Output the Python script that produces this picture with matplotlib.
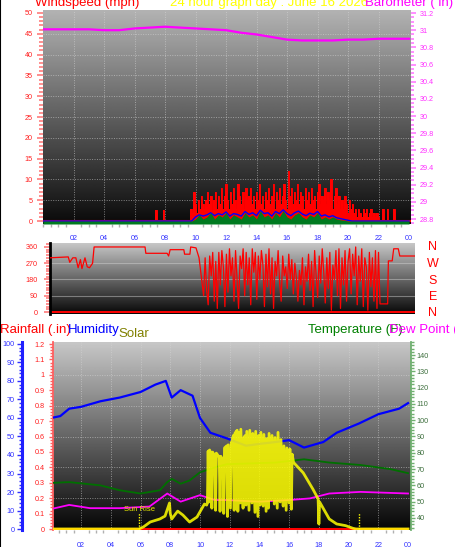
import numpy as np
import matplotlib.pyplot as plt
from matplotlib.lines import Line2D
from matplotlib.ticker import MultipleLocator, FixedLocator, FuncFormatter

plt.rcParams['font.family'] = ['Liberation Sans', 'DejaVu Sans']

# ---------------- data ----------------
hour_ticks = [2, 4, 6, 8, 10, 12, 14, 16, 18, 20, 22, 24]
hour_labels = ['02', '04', '06', '08', '10', '12', '14', '16', '18', '20', '22', '00']

# barometer (in), hourly
baro_hours = list(range(25))
baro_in = [31.01, 31.01, 31.01, 31.01, 31.00, 31.00, 31.02, 31.03, 31.04, 31.03,
           31.02, 31.01, 31.00, 30.97, 30.95, 30.92, 30.89, 30.88, 30.88, 30.88,
           30.89, 30.89, 30.90, 30.90, 30.90]

# gusts (mph): two early blips then 0.1 h samples 9.6 .. 23.4
early_gust_hours = [7.3, 7.4, 7.5, 7.8, 7.9, 8.0]
early_gust_mph = [0, 2.6, 0, 0, 2.6, 0]
gust_mph = [0, 3, 2, 7, 4, 2, 5, 3, 6, 4,
            3, 5, 7, 4, 6, 2, 5, 7, 3, 6,
            4, 8, 3, 6, 9, 5, 3, 7, 4, 8,
            5, 3, 9, 6, 4, 7, 3, 8, 5, 6,
            8, 4, 6, 3, 7, 5, 9, 4, 6, 3,
            7, 5, 8, 4, 6, 9, 3, 7, 5, 8,
            4, 6, 9, 5, 3, 12, 6, 8, 4, 7,
            5, 9, 4, 7, 6, 3, 8, 5, 7, 4,
            8, 5, 6, 3, 7, 9, 4, 6, 5, 8,
            4, 7, 5, 10, 3, 6, 8, 4, 6, 3,
            5, 3, 6, 4, 2, 5, 3, 4, 2, 3,
            1, 3, 2, 1, 3, 2, 3, 1, 2, 3,
            1, 2, 1, 2, 1, 0, 0, 3, 0, 0,
            3, 0, 0, 0, 3, 0, 0, 0, 0]

# wind speed (blue) and average (green), 0.25 h samples 9.75 .. 20.5
wind_mph = [0, 1, 1.5, 1.2, 1.5, 2, 1.3, 1.8, 1.5, 2.2,
            1.2, 1.8, 1.6, 1.2, 2.3, 1.6, 2, 1.3, 2.6, 1.8,
            2, 1.2, 2.3, 1.8, 2.7, 1.8, 1.3, 2, 2.4, 1.7,
            1.3, 1.9, 1.6, 2.3, 1.2, 1.5, 1, 1.3, 0.8, 0.6,
            0.4, 0.2, 0, 0]
avg_mph = [0, 0.5, 1.5, 0.5, 1, 2, 0.5, 1.5, 1, 2,
           0.5, 1.5, 1, 0.5, 2, 1, 1.5, 0.5, 2.5, 1,
           1.5, 0.5, 2, 1, 2.5, 1, 0.5, 1.5, 2, 1,
           0.5, 1.5, 1, 2, 0.5, 1, 0.5, 1, 0.5, 0.3,
           0.2, 0, 0, 0]

# wind direction (deg)
dir_hours_am = [0, 1.2, 1.3, 1.5, 1.7, 1.85, 2.0, 2.1, 2.3, 2.45, 2.6, 2.8, 2.9,
                6.25, 6.3, 7.7, 7.8, 7.9, 8.8, 8.85, 9.2, 9.25, 9.6, 9.8]
dir_deg_am = [300, 305, 275, 300, 300, 245, 290, 240, 300, 250, 245, 270, 360,
              360, 325, 325, 310, 345, 345, 320, 320, 360, 355, 300]
# 0.1 h samples 10.0 .. 21.6
dir_deg_day = [160, 90, 300, 120, 40, 310, 200, 330, 60, 280,
               20, 330, 150, 340, 250, 30, 320, 110, 350, 200,
               300, 60, 340, 180, 20, 310, 240, 350, 90, 330,
               150, 300, 40, 350, 220, 330, 70, 310, 180, 340,
               260, 30, 320, 140, 350, 100, 300, 20, 280, 200,
               340, 160, 60, 310, 200, 250, 130, 320, 180, 290,
               100, 270, 190, 60, 230, 150, 300, 40, 250, 170,
               320, 120, 280, 30, 340, 200, 80, 310, 160, 350,
               220, 50, 300, 130, 330, 10, 260, 180, 340, 90,
               350, 20, 300, 150, 340, 60, 280, 350, 100, 320,
               200, 360, 40, 310, 170, 350, 30, 300, 250, 10,
               330, 140, 300, 60, 340, 20, 330]
dir_hours_pm = [21.7, 22.2, 22.25, 22.5, 22.6, 22.9, 23.0, 24]
dir_deg_pm = [45, 45, 283, 283, 350, 350, 310, 310]

# humidity (%)
hum_hours = [0, 0.6, 1.2, 2, 3.3, 4.6, 6, 7, 7.7, 8.1, 8.7, 9.5, 10, 10.7, 11.8,
             13.1, 14.0, 15.1, 16.0, 17.0, 18.3, 19.2, 20.7, 22.0, 23.4, 24]
hum_pct = [60, 61, 65, 66, 69, 71, 74, 78, 80, 71, 75, 72, 60, 52, 49,
           45, 46, 47, 48, 44, 47, 52, 57, 62, 65, 68]

# temperature and dew point (F)
temp_hours = [0, 1.2, 3.3, 4.6, 6, 7.3, 7.8, 8.1, 8.7, 9.3, 10, 11, 11.8,
              15.1, 17.0, 18.7, 20.8, 22.8, 24]
temp_f = [61.5, 62, 60, 57, 55, 57, 62, 64, 61, 63, 68, 71, 73,
          74, 76, 74, 72.5, 70, 67.5]
dew_hours = [0, 1.2, 2.6, 4.6, 6.6, 7.8, 8.7, 10, 11, 11.8, 14.0, 16.0, 17.4,
             18.7, 20.8, 24]
dew_f = [45.5, 48, 46, 46, 47, 55, 50, 54, 51, 51, 50, 51, 52, 55, 56, 55]

# rainfall (in)
rain_hours = [0, 24]
rain_in = [0, 0]

# solar (W/m2)
solar_hours = [0, 5.9, 6.2, 6.65, 7.3, 7.65, 7.95, 8.0, 8.1, 8.5, 8.85, 9.3, 9.8,
               10.3, 10.45,
               10.50, 10.55, 10.60, 10.65, 10.75, 10.80, 10.85, 11.00, 11.05, 11.10,
               11.30, 11.35, 11.40, 11.55, 11.60, 11.65, 11.80, 11.85, 11.90, 12.05,
               12.10, 12.25, 12.30, 12.35, 12.50, 12.55, 12.60, 12.70, 12.75, 12.90,
               12.95, 13.05, 13.10, 13.15, 13.30, 13.35, 13.50, 13.55, 13.70, 13.75,
               13.90, 13.95, 14.05, 14.10, 14.25, 14.30, 14.45, 14.50, 14.60, 14.65,
               14.80, 14.85, 15.00, 15.05, 15.20, 15.25, 15.40, 15.45, 15.60, 15.65,
               15.80, 15.85, 16.00, 16.05, 16.15, 16.20, 16.30,
               16.95, 17.6, 17.95, 18.0, 18.05, 18.7, 19.2, 19.8, 20.3, 20.5, 24]
solar_wm2 = [0, 0, 20, 67, 96, 124, 250, 150, 96, 172, 134, 67, 115,
             240, 230,
             250, 750, 260, 760, 720, 200, 740, 700, 180, 730,
             690, 170, 700, 650, 150, 780, 800, 120, 810, 200,
             820, 900, 180, 920, 950, 170, 930, 250, 960, 200,
             880, 900, 230, 940, 180, 950, 250, 920, 160, 940,
             120, 900, 230, 930, 220, 910, 170, 870, 200, 920,
             280, 900, 240, 880, 200, 930, 260, 860, 220, 800,
             180, 780, 250, 770, 190, 720, 640,
             540, 383, 290, 48, 260, 96, 48, 32, 6, 0, 0]
sunrise, sunset = 5.9, 20.7

gust_hours = early_gust_hours + list(np.linspace(9.6, 23.4, len(gust_mph)))
gust_all = early_gust_mph + gust_mph
avg_hours = [0, 9.5] + list(np.linspace(9.75, 20.5, len(avg_mph))) + [24]
avg_all = [0, 0] + avg_mph + [0]
wind_all = [0, 0] + wind_mph + [0]
dir_hours = dir_hours_am + list(np.linspace(10.0, 21.6, len(dir_deg_day))) + dir_hours_pm
dir_deg = dir_deg_am + dir_deg_day + dir_deg_pm

# ---------------- helpers ----------------
W, H = 456, 547
fig = plt.figure(figsize=(W / 100, H / 100), dpi=100)
fig.patch.set_facecolor('white')


def box(x0, y0, x1, y1):
    return [x0 / W, 1 - y1 / H, (x1 - x0) / W, (y1 - y0) / H]


def shade(ax, top, bottom):
    x0, x1 = ax.get_xlim()
    y0, y1 = ax.get_ylim()
    g = np.linspace(top, bottom, 256).reshape(-1, 1)
    ax.imshow(g, cmap='gray', vmin=0, vmax=1, aspect='auto',
              extent=[x0, x1, y0, y1], zorder=0)
    ax.set_xlim(x0, x1)
    ax.set_ylim(y0, y1)


def grid(ax, xs, ys):
    for x in xs:
        ax.axvline(x, color='#d8d8d8', lw=0.7, ls=(0, (1, 1.5)), alpha=0.55, zorder=0.5)
    for y in ys:
        ax.axhline(y, color='#d8d8d8', lw=0.7, ls=(0, (1, 1.5)), alpha=0.55, zorder=0.5)


def hide_spines(ax):
    for s in ax.spines.values():
        s.set_visible(False)


fmt_g = FuncFormatter(lambda v, p: '%g' % round(v, 2))
TS = 5.2

# ---------------- top panel: wind speed + barometer ----------------
ax1 = fig.add_axes(box(43, 10, 411, 224))
ax1.set_xlim(0, 24.13)
ax1.set_ylim(-0.7, 50.7)
shade(ax1, 0.70, 0.04)
grid(ax1, hour_ticks[:-1], range(5, 50, 5))
ax1.fill_between(gust_hours, 0, gust_all, step='mid', color='#ff0000', lw=0, zorder=2)
ax1.step(gust_hours, gust_all, where='mid', color='#ff0000', lw=0.7, zorder=2)
ax1.axhline(0, color='#ff0000', lw=1.5, zorder=2)
ax1.plot(avg_hours, wind_all, color='#0000ff', lw=1, zorder=3)
ax1.fill_between(avg_hours, -0.7, avg_all, color='#007a20', lw=0, zorder=4)
hide_spines(ax1)
ax1.yaxis.set_major_locator(MultipleLocator(5))
ax1.yaxis.set_minor_locator(MultipleLocator(1))
ax1.tick_params(axis='y', which='both', colors='#ff7070', labelcolor='#ff2020',
                labelsize=TS, width=1.1, pad=3)
ax1.tick_params(axis='y', which='major', length=4.5)
ax1.tick_params(axis='y', which='minor', length=3)
ax1.set_xticks(hour_ticks)
ax1.set_xticklabels(hour_labels)
ax1.xaxis.set_minor_locator(MultipleLocator(0.5))
ax1.tick_params(axis='x', which='major', length=0, pad=8, labelsize=TS, labelcolor='#3030ff')
ax1.tick_params(axis='x', which='minor', length=2, width=1, color='#b0b0b0')

ax1b = ax1.twinx()
ax1b.set_ylim(28.742, 31.235)
ax1b.plot(baro_hours, baro_in, color='#ff00ff', lw=1.6)
hide_spines(ax1b)
ax1b.yaxis.set_major_locator(FixedLocator(np.round(np.arange(28.8, 31.21, 0.2), 1)))
ax1b.yaxis.set_minor_locator(MultipleLocator(0.05))
ax1b.yaxis.set_major_formatter(fmt_g)
ax1b.tick_params(axis='y', which='both', colors='#ff70ff', labelcolor='#ff30ff',
                 labelsize=TS, width=1.1, pad=2.5)
ax1b.tick_params(axis='y', which='major', length=3.5)
ax1b.tick_params(axis='y', which='minor', length=2.5)

# ---------------- middle panel: wind direction ----------------
ax2 = fig.add_axes(box(50, 243, 415, 314))
ax2.set_xlim(0, 24)
ax2.set_ylim(-11, 382)
shade(ax2, 0.78, 0.03)
for y in [90, 180, 270]:
    ax2.axhline(y, color='#d8d8d8', lw=0.8, alpha=0.45, zorder=0.5)
ax2.axhline(0, color='#ff0000', lw=1.4, zorder=2)
ax2.plot(dir_hours, dir_deg, color='#ff0000', lw=0.9, zorder=3)
hide_spines(ax2)
ax2.spines['left'].set_visible(True)
ax2.spines['left'].set_color('black')
ax2.spines['left'].set_linewidth(2)
ax2.set_xticks([])
ax2.set_yticks([0, 90, 180, 270, 360])
ax2.yaxis.set_minor_locator(MultipleLocator(15))
ax2.tick_params(axis='y', which='both', colors='#ff7070', labelcolor='#ff2020',
                labelsize=TS, width=1.1, pad=5)
ax2.tick_params(axis='y', which='major', length=4)
ax2.tick_params(axis='y', which='minor', length=3)
for letter, yy in zip(['N', 'W', 'S', 'E', 'N'], [247, 264, 281, 297, 313]):
    fig.text(433 / W, 1 - yy / H, letter, color='#ff0000', fontsize=9,
             ha='center', va='center')

# ---------------- bottom panel ----------------
ax3 = fig.add_axes(box(53, 342, 411, 530))
ax3.set_xlim(0.11, 24.2)
ax3.set_ylim(-0.006, 1.213)
shade(ax3, 0.78, 0.02)
grid(ax3, hour_ticks[:-1], np.round(np.arange(0.2, 1.1, 0.2), 1))
ax3.plot(rain_hours, rain_in, color='#ff0000', lw=2.2, zorder=2, solid_capstyle='butt')
hide_spines(ax3)
ax3.spines['left'].set_visible(True)
ax3.spines['left'].set_color('#ff6060')
ax3.spines['left'].set_linestyle((0, (1, 1)))
ax3.spines['left'].set_linewidth(1.3)
ax3.yaxis.set_major_locator(FixedLocator(np.round(np.arange(0, 1.21, 0.1), 1)))
ax3.yaxis.set_major_formatter(fmt_g)
ax3.yaxis.set_minor_locator(MultipleLocator(0.02))
ax3.tick_params(axis='y', which='both', colors='#ff6060', labelcolor='#ff2020',
                labelsize=TS, width=1, pad=3)
ax3.tick_params(axis='y', which='major', length=3)
ax3.tick_params(axis='y', which='minor', length=2)
ax3.set_xticks(hour_ticks)
ax3.set_xticklabels(hour_labels)
ax3.xaxis.set_minor_locator(MultipleLocator(0.5))
ax3.tick_params(axis='x', which='major', length=0, pad=8.5, labelsize=TS, labelcolor='#3030ff')
ax3.tick_params(axis='x', which='minor', length=2, width=1, color='#b0b0b0')

ah = ax3.twinx()
ah.set_ylim(-0.5, 101)
ah.plot(hum_hours, hum_pct, color='#0000ff', lw=1.6)
hide_spines(ah)
ah.yaxis.tick_left()
ah.spines['left'].set_visible(True)
ah.spines['left'].set_position(('outward', 22))
ah.spines['left'].set_color('#2020ff')
ah.spines['left'].set_linewidth(2.2)
ah.yaxis.set_major_locator(MultipleLocator(10))
ah.yaxis.set_minor_locator(MultipleLocator(2))
ah.tick_params(axis='y', which='both', colors='#3030ff', labelcolor='#3030ff',
               labelsize=TS, width=1, pad=2)
ah.tick_params(axis='y', which='major', length=3.5)
ah.tick_params(axis='y', which='minor', length=2)

at = ax3.twinx()
at.set_ylim(32.6, 148)
at.plot(temp_hours, temp_f, color='#007000', lw=1.3)
at.plot(dew_hours, dew_f, color='#ff00ff', lw=1.3)
hide_spines(at)
at.spines['right'].set_visible(True)
at.spines['right'].set_color('#70b070')
at.spines['right'].set_linestyle((0, (1, 1)))
at.spines['right'].set_linewidth(1.3)
at.set_yticks(range(40, 141, 10))
at.yaxis.set_minor_locator(MultipleLocator(2))
at.tick_params(axis='y', which='both', colors='#70b070', labelcolor='#3c6e3c',
               labelsize=TS, width=1, pad=1)
at.tick_params(axis='y', which='major', length=3)
at.tick_params(axis='y', which='minor', length=2)

asol = ax3.twinx()
asol.set_ylim(-10, 1800)
asol.plot(solar_hours, solar_wm2, color='#ffff00', lw=2, alpha=0.85)
asol.plot([sunrise, sunrise], [0, 150], color='#ffff00', lw=1, ls=(0, (1, 1)))
asol.plot([sunset, sunset], [0, 150], color='#ffff00', lw=1, ls=(0, (1, 1)))
asol.text(sunrise, 150, 'Sun Rise', color='#e8e800', fontsize=5.5, ha='center', va='bottom')
hide_spines(asol)
asol.set_yticks([])

# ---------------- titles ----------------
fig.text(35 / W, 1 - 3 / H, 'Windspeed (mph)', color='#ff0000', fontsize=9.5, va='center')
fig.text(170 / W, 1 - 3 / H, '24 hour graph day : June 16 2026', color='#ffff00',
         fontsize=9.5, va='center')
fig.text(365 / W, 1 - 3 / H, 'Barometer ( in)', color='#ff00ff', fontsize=9.5, va='center')
fig.text(0, 1 - 330 / H, 'Rainfall (.in)', color='#ff0000', fontsize=9.5, va='center')
fig.text(68 / W, 1 - 330 / H, 'Humidity', color='#0000ff', fontsize=9.5, va='center')
fig.text(118 / W, 1 - 334 / H, 'Solar', color='#808000', fontsize=9.5, va='center')
fig.text(308 / W, 1 - 330 / H, 'Temperature (F)', color='#008000', fontsize=9.5, va='center')
fig.text(389 / W, 1 - 330 / H, 'Dew Point (', color='#ff00ff', fontsize=9.5, va='center')
fig.add_artist(Line2D([0.5 / W, 0.5 / W], [0, 1], color='black', lw=1.5))

fig.savefig('out.png', dpi=100)
